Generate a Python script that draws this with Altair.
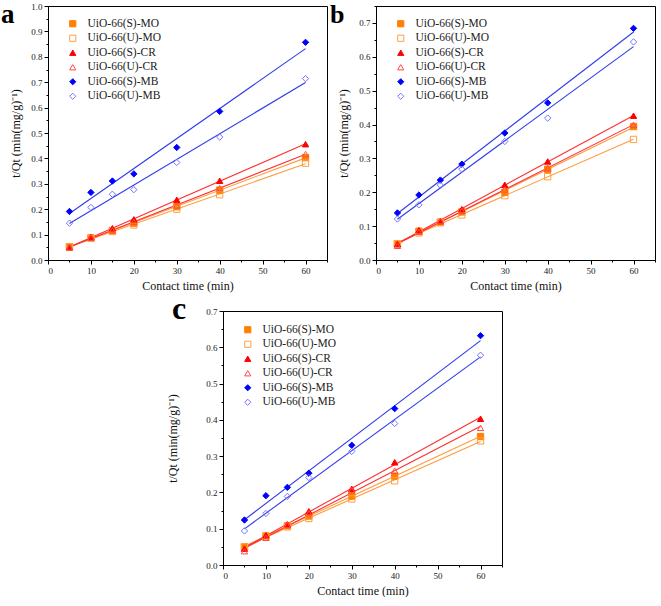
import altair as alt
import pandas as pd

# ---------------- data ----------------
x_time = [5, 10, 15, 20, 30, 40, 60]
series_names = ["UiO-66(S)-MO", "UiO-66(U)-MO", "UiO-66(S)-CR",
                "UiO-66(U)-CR", "UiO-66(S)-MB", "UiO-66(U)-MB"]
series_dyes = ["MO", "MO", "CR", "CR", "MB", "MB"]

# panel a
a_S_MO = [0.052, 0.087, 0.115, 0.145, 0.210, 0.275, 0.403]
a_U_MO = [0.052, 0.085, 0.112, 0.138, 0.200, 0.257, 0.381]
a_S_CR = [0.050, 0.090, 0.125, 0.160, 0.237, 0.312, 0.456]
a_U_CR = [0.050, 0.088, 0.117, 0.150, 0.215, 0.283, 0.417]
a_S_MB = [0.191, 0.266, 0.311, 0.339, 0.443, 0.585, 0.857]
a_U_MB = [0.145, 0.207, 0.259, 0.277, 0.384, 0.484, 0.714]

# panel b
b_S_MO = [0.048, 0.085, 0.112, 0.142, 0.200, 0.268, 0.394]
b_U_MO = [0.048, 0.080, 0.110, 0.133, 0.190, 0.246, 0.356]
b_S_CR = [0.047, 0.088, 0.115, 0.150, 0.222, 0.291, 0.426]
b_U_CR = [0.042, 0.083, 0.115, 0.145, 0.208, 0.271, 0.399]
b_S_MB = [0.139, 0.192, 0.236, 0.283, 0.375, 0.464, 0.684]
b_U_MB = [0.121, 0.163, 0.221, 0.268, 0.350, 0.419, 0.644]

# panel c
c_S_MO = [0.050, 0.080, 0.108, 0.135, 0.190, 0.245, 0.354]
c_U_MO = [0.050, 0.077, 0.105, 0.128, 0.182, 0.232, 0.342]
c_S_CR = [0.045, 0.082, 0.112, 0.148, 0.210, 0.283, 0.403]
c_U_CR = [0.038, 0.075, 0.110, 0.143, 0.206, 0.260, 0.378]
c_S_MB = [0.124, 0.191, 0.214, 0.253, 0.330, 0.431, 0.632]
c_U_MB = [0.094, 0.142, 0.189, 0.241, 0.313, 0.390, 0.578]

x_ticks = [0, 5, 10, 15, 20, 25, 30, 35, 40, 45, 50, 55, 60, 65]

FONT = "Liberation Serif"

stroke_colors = ["#FF7F00", "#FFA040", "#FF0000", "#FF4A4A", "#0000FF", "#7474FF"]
fill_colors = ["#FF7F00", "transparent", "#FF0000", "transparent", "#0000FF", "transparent"]
shapes = ["square", "square", "triangle-up", "triangle-up", "diamond", "diamond"]
line_dyes = ["MO", "CR", "MB"]
line_colors = ["#FF9A3C", "#FF2E2E", "#2E3BEA"]

RES_SCALE = dict(x="independent", y="independent", shape="independent",
                 stroke="independent", fill="independent", color="independent")
RES_LEG = dict(shape="independent", stroke="independent", fill="independent",
               color="independent")


def make_df(cols):
    rows = []
    for name, dye, vals in zip(series_names, series_dyes, cols):
        for xv, yv in zip(x_time, vals):
            rows.append({"x": xv, "y": yv, "series": name, "dye": dye})
    return pd.DataFrame(rows)


def panel(cols, ymax, yvals, letter, letter_size, lx, ly, ytitle_pad=8, leg_y=12):
    df = make_df(cols)
    x_enc = alt.X(
        "x:Q",
        scale=alt.Scale(domain=[0, 65], nice=False, zero=False),
        axis=alt.Axis(
            values=x_ticks,
            title="Contact time (min)",
            labelExpr="datum.value % 10 == 0 ? datum.label : ''",
            tickSize={"condition": {"test": "datum.value % 10 == 0", "value": 4}, "value": 2},
            titlePadding=5,
        ),
    )
    y_enc = alt.Y(
        "y:Q",
        scale=alt.Scale(domain=[0, ymax], nice=False, zero=False),
        axis=alt.Axis(
            values=yvals,
            format=".1f",
            title="t/Qt (min(mg/g)⁻¹)",
            labelExpr="abs(datum.value*10 - round(datum.value*10)) < 0.001 ? datum.label : ''",
            tickSize={"condition": {"test": "abs(datum.value*10 - round(datum.value*10)) < 0.001",
                                    "value": 4}, "value": 2},
            titlePadding=ytitle_pad,
        ),
    )
    base = alt.Chart(df)
    lines = base.transform_regression(
        "x", "y", groupby=["series", "dye"]
    ).mark_line(strokeWidth=1.1).encode(
        x=x_enc,
        y=y_enc,
        color=alt.Color("dye:N", scale=alt.Scale(domain=line_dyes, range=line_colors), legend=None),
        detail="series:N",
    )
    leg = alt.Legend(
        title=None, orient="none", legendX=19, legendY=leg_y, padding=0,
        labelFont=FONT, labelFontSize=11.5, labelColor="#222",
        symbolSize=38, symbolStrokeWidth=1, rowPadding=1.5, labelOffset=9,
    )
    points = base.mark_point(filled=True, size=40, strokeWidth=1, opacity=1).encode(
        x=x_enc,
        y=y_enc,
        shape=alt.Shape("series:N", scale=alt.Scale(domain=series_names, range=shapes), legend=leg),
        stroke=alt.Stroke("series:N", scale=alt.Scale(domain=series_names, range=stroke_colors), legend=leg),
        fill=alt.Fill("series:N", scale=alt.Scale(domain=series_names, range=fill_colors), legend=leg),
    )
    label_df = pd.DataFrame({"t": [letter]})
    label = alt.Chart(label_df).mark_text(
        font=FONT, fontSize=letter_size, fontWeight="bold", align="left",
        baseline="alphabetic", color="black",
    ).encode(text="t:N", x=alt.value(lx), y=alt.value(ly))
    return alt.layer(lines, points, label).properties(width=279, height=254)


ya = [round(i * 0.05, 2) for i in range(0, 21)]
yb = [round(i * 0.05, 2) for i in range(0, 16)]
yc = [round(i * 0.05, 2) for i in range(0, 15)]

pa = panel([a_S_MO, a_U_MO, a_S_CR, a_U_CR, a_S_MB, a_U_MB], 1.0, ya, "a", 27, -47, 17)
pb = panel([b_S_MO, b_U_MO, b_S_CR, b_U_CR, b_S_MB, b_U_MB], 0.75, yb, "b", 26, -46, 17)
pc = panel([c_S_MO, c_U_MO, c_S_CR, c_U_CR, c_S_MB, c_U_MB], 0.7, yc, "c", 32, -51, 8,
           ytitle_pad=26, leg_y=13)

# empty, invisible cell that pushes panel c towards the centre
spacer = alt.Chart(pd.DataFrame({"t": [""]})).mark_text(opacity=0).encode(
    text="t:N"
).properties(width=117, height=10, view=alt.ViewBackground(stroke="transparent"))

top_row = alt.hconcat(pa, pb, spacing=1).resolve_scale(**RES_SCALE).resolve_legend(**RES_LEG)
bottom_row = alt.hconcat(spacer, pc, spacing=0).resolve_scale(**RES_SCALE).resolve_legend(**RES_LEG)

chart = alt.vconcat(
    top_row,
    bottom_row,
    spacing=0,
).resolve_scale(**RES_SCALE).resolve_legend(**RES_LEG).properties(
    padding={"left": 0, "top": 0, "right": 0, "bottom": 0},
    background="white",
).configure_view(
    stroke="black", strokeWidth=1
).configure_axis(
    labelFont=FONT, labelFontSize=9, labelColor="#222",
    titleFont=FONT, titleFontSize=12, titleFontWeight="normal", titleColor="#111",
    domainColor="black", tickColor="black", grid=False, labelPadding=2,
)

chart.save("out.html", embed_options={"renderer": "svg", "actions": False})
